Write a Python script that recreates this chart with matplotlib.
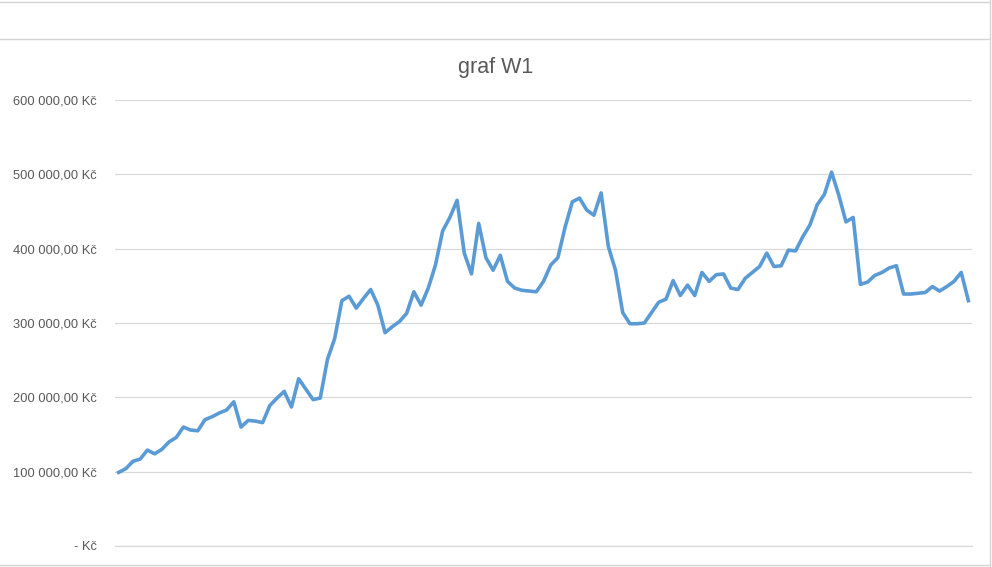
import numpy as np
import matplotlib.pyplot as plt
from matplotlib.lines import Line2D
from matplotlib.ticker import FuncFormatter

# values in thousands of Kč
values = [99, 104, 114, 117, 129, 124, 130, 140, 146, 160, 156, 155, 170, 174, 179, 183,
          194, 160, 169, 168, 166, 189, 199, 208, 187, 225, 211, 197, 199, 251,
          279, 330, 336, 320, 333, 345, 324, 287, 295, 302, 313, 342, 324, 347,
          378, 424, 442, 465, 394, 366, 434, 388, 371, 391, 356, 347, 344, 343,
          342, 356, 378, 388, 429, 463, 468, 452, 445, 475, 403, 371, 314, 299,
          299, 300, 314, 328, 332, 357, 337, 351, 337, 368, 356, 365, 366, 347,
          345, 360, 368, 376, 394, 376, 377, 398, 397, 416, 432, 459, 473, 503,
          472, 436, 442, 352, 355, 364, 368, 374, 377, 339, 339, 340, 341, 349,
          343, 349, 356, 368, 330]
yticks = [0, 100000, 200000, 300000, 400000, 500000, 600000]
title = "graf W1"

values = np.array(values) * 1000
x = np.arange(len(values))

plt.rcParams['font.family'] = ['Liberation Sans', 'DejaVu Sans']

fig = plt.figure(figsize=(9.92, 5.67), dpi=100)
W, H = 992, 567
ax = fig.add_axes([115 / W, (H - 546) / H, (972 - 115) / W, (546 - 100) / H])

ax.plot(x, values, color='#5B9BD5', linewidth=2.6, solid_joinstyle='round')

ax.set_xlim(-0.5, len(values) - 0.5)
ax.set_ylim(0, 600000)
ax.set_yticks(yticks)
ax.yaxis.grid(True, color='#D9D9D9', linewidth=0.9)
ax.set_axisbelow(True)
ax.set_xticks([])


def fmt(v, pos):
    if v == 0:
        return '- Kč'
    s = f"{v:,.2f}".replace(',', ' ').replace('.', ',')
    return s + ' Kč'


ax.yaxis.set_major_formatter(FuncFormatter(fmt))
ax.tick_params(axis='y', length=0, pad=13, labelsize=9.3, labelcolor='#595959')
for s in ax.spines.values():
    s.set_visible(False)
ax.spines['bottom'].set_visible(True)
ax.spines['bottom'].set_color('#D9D9D9')
ax.spines['bottom'].set_linewidth(0.9)

fig.text(0.5, 1 - 68 / H, title, ha='center', va='center', fontsize=15.5, color='#595959')

# sheet cell borders around the chart
c = '#D4D4D4'
fig.add_artist(Line2D([0, 990 / W], [1 - 2 / H, 1 - 2 / H], color=c, lw=1))
fig.add_artist(Line2D([0, 990 / W], [1 - 39 / H, 1 - 39 / H], color=c, lw=1))
fig.add_artist(Line2D([990 / W, 990 / W], [0, 1], color=c, lw=1))
fig.add_artist(Line2D([0, 990 / W], [2 / H, 2 / H], color=c, lw=1))

fig.savefig('out.png', dpi=100)
